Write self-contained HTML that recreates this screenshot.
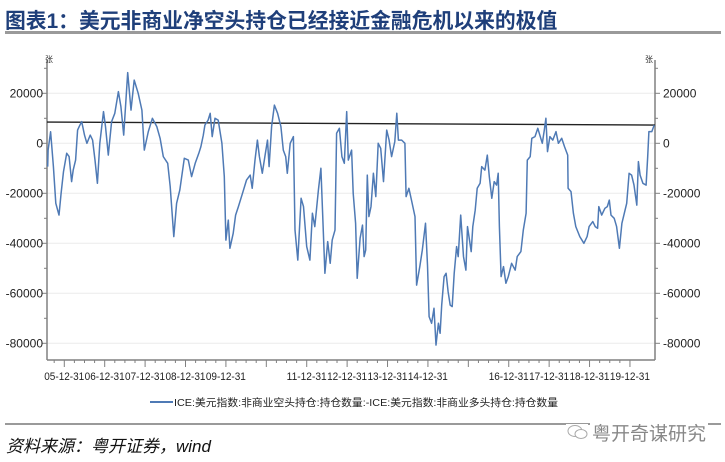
<!DOCTYPE html>
<html><head><meta charset="utf-8">
<style>
html,body{margin:0;padding:0;background:#fff;}
body{width:725px;height:462px;overflow:hidden;position:relative;font-family:"Liberation Sans","Noto Sans CJK SC",sans-serif;}
.title{position:absolute;left:5px;top:4px;font-size:20.8px;font-weight:bold;color:#1f3f7a;white-space:nowrap;letter-spacing:0;font-family:"Liberation Sans","Noto Sans CJK SC",sans-serif;}
.rule1{position:absolute;left:5px;right:4px;top:31px;height:3px;background:#9a9a9a;}
.rule2{position:absolute;left:5px;right:4px;top:423px;height:2px;background:#9a9a9a;}
.source{position:absolute;left:6px;top:432px;font-size:17px;font-style:italic;color:#111;white-space:nowrap;}
.wm{position:absolute;left:590px;top:419px;font-size:19px;color:#888;white-space:nowrap;background:#fff;padding:0 2px;}
.wmicon{position:absolute;left:566px;top:424px;width:22px;height:16px;background:#fff;}
</style></head><body>
<div class="title">图表1：美元非商业净空头持仓已经接近金融危机以来的极值</div>
<div class="rule1"></div>
<svg id="chart" width="725" height="462" style="position:absolute;left:0;top:0"></svg>
<div class="rule2"></div>
<div class="source">资料来源：粤开证券，wind</div>
<div class="wmicon"><svg width="22" height="16"><ellipse cx="9" cy="7" rx="7" ry="5.5" fill="none" stroke="#aaa"/><ellipse cx="15" cy="10" rx="6" ry="4.5" fill="#fff" stroke="#aaa"/></svg></div>
<div class="wm">粤开奇谋研究</div>
<script>
const dates=[2005.59,2005.60,2005.66,2005.69,2005.73,2005.79,2005.87,2005.92,2005.98,2006.06,2006.12,2006.18,2006.22,2006.28,2006.33,2006.37,2006.43,2006.50,2006.56,2006.64,2006.70,2006.76,2006.82,2006.88,2006.97,2007.02,2007.09,2007.17,2007.25,2007.34,2007.40,2007.47,2007.57,2007.65,2007.73,2007.83,2007.92,2007.98,2008.08,2008.18,2008.29,2008.37,2008.45,2008.56,2008.62,2008.71,2008.78,2008.86,2008.97,2009.07,2009.15,2009.24,2009.33,2009.38,2009.44,2009.48,2009.56,2009.61,2009.66,2009.73,2009.81,2009.90,2009.96,2010.00,2010.06,2010.10,2010.18,2010.24,2010.31,2010.41,2010.51,2010.60,2010.65,2010.72,2010.78,2010.83,2010.90,2010.97,2011.03,2011.07,2011.13,2011.20,2011.28,2011.36,2011.42,2011.48,2011.52,2011.59,2011.67,2011.71,2011.78,2011.86,2011.92,2012.00,2012.08,2012.14,2012.20,2012.29,2012.35,2012.39,2012.45,2012.52,2012.58,2012.63,2012.70,2012.74,2012.81,2012.87,2012.93,2012.99,2013.03,2013.11,2013.15,2013.21,2013.25,2013.32,2013.38,2013.42,2013.46,2013.50,2013.54,2013.59,2013.65,2013.71,2013.77,2013.83,2013.90,2013.98,2014.04,2014.10,2014.18,2014.23,2014.27,2014.35,2014.43,2014.46,2014.53,2014.60,2014.68,2014.72,2014.80,2014.86,2014.94,2014.99,2015.03,2015.09,2015.15,2015.20,2015.26,2015.30,2015.34,2015.40,2015.45,2015.50,2015.55,2015.60,2015.65,2015.71,2015.75,2015.81,2015.88,2015.94,2015.98,2016.07,2016.11,2016.17,2016.22,2016.29,2016.33,2016.41,2016.47,2016.52,2016.58,2016.64,2016.70,2016.74,2016.77,2016.81,2016.87,2016.93,2016.99,2017.07,2017.16,2017.21,2017.30,2017.36,2017.43,2017.46,2017.53,2017.57,2017.65,2017.72,2017.77,2017.83,2017.88,2017.92,2017.96,2018.02,2018.09,2018.17,2018.23,2018.31,2018.38,2018.46,2018.47,2018.54,2018.60,2018.66,2018.76,2018.86,2018.94,2018.99,2019.08,2019.14,2019.20,2019.23,2019.30,2019.38,2019.44,2019.49,2019.53,2019.61,2019.67,2019.74,2019.80,2019.86,2019.92,2019.98,2020.04,2020.10,2020.17,2020.21,2020.25,2020.32,2020.40,2020.44,2020.47,2020.54,2020.60];
const netShort=[-9300,-2700,4600,-1300,-9300,-24000,-28700,-20000,-11300,-4000,-5300,-15300,-10700,-6700,5300,6700,8700,3300,0,3300,1300,-6700,-16000,0,12700,6700,-4700,8700,12000,20700,14700,3300,28300,13300,25300,20000,13300,-2700,4700,10000,6700,2000,-5300,-8000,-17300,-37300,-24000,-18700,-6000,-6700,-13300,-8000,-4000,-1300,3300,7300,9300,12000,2700,10000,9300,0,-13300,-38700,-30700,-42000,-36000,-28700,-25300,-20000,-14700,-12700,-18000,-6700,1300,-5300,-12000,-4700,1300,-9300,6700,15300,12000,6700,-2700,-5300,-12000,0,2700,-34700,-46700,-22000,-25300,-41300,-46700,-28000,-33300,-18700,-10000,-26700,-52000,-39300,-48000,-38700,-34700,4000,6000,-5300,-8000,12700,-6700,-2700,-20000,-32000,-54000,-38000,-32700,-45300,-42700,-12700,-29300,-25300,-12000,-21300,0,-2000,-15300,5300,1300,-5300,700,12000,1300,1300,0,-21300,-18000,-23300,-29300,-56700,-49300,-42700,-32000,-48700,-69300,-72000,-66000,-80700,-72000,-76000,-64700,-53300,-52000,-59300,-64700,-65300,-52000,-41300,-45300,-28700,-45300,-50700,-33300,-43300,-33300,-26700,-18000,-16000,-9300,-10700,-4700,-13300,-22000,-15300,-16700,-12000,-33300,-53300,-49300,-56000,-53300,-48000,-50700,-45300,-43300,-34700,-28000,-6700,-5300,2000,2700,6000,3300,0,5300,10000,-3300,2700,1300,4700,0,2000,-1300,-4700,-18000,-19300,-28000,-33300,-37300,-40000,-37300,-33300,-31300,-33300,-34000,-25300,-28700,-26000,-25300,-22700,-28700,-30000,-33300,-42000,-32000,-28000,-24000,-12000,-12700,-16700,-24700,-7300,-12700,-16000,-16700,-5300,4700,4700,7300];
const refLine=[8500,7300];
const yTicks=[20000,0,-20000,-40000,-60000,-80000];
const xLabels=["05-12-31","06-12-31","07-12-31","08-12-31","09-12-31","11-12-31","12-12-31","13-12-31","14-12-31","16-12-31","17-12-31","18-12-31","19-12-31"];
const xLabelYears=[2005.9,2006.9,2007.9,2008.9,2009.9,2011.9,2012.9,2013.9,2014.9,2016.9,2017.9,2018.9,2019.9];
const tickYears=[2006,2007,2008,2009,2010,2011,2012,2013,2014,2015,2016,2017,2018,2019,2020];

const NS='http://www.w3.org/2000/svg';
const svg=document.getElementById('chart');
const L=47,R=655,T=60,B=360;
const X0=2005.572,X1=2020.62;
const xs=v=>L+(v-X0)/(X1-X0)*(R-L);
const ys=v=>143.3-v/20000*50;
function mk(tag,attrs){const e=document.createElementNS(NS,tag);for(const k in attrs)e.setAttribute(k,attrs[k]);svg.appendChild(e);return e;}
yTicks.forEach(v=>{const g=mk('line',{x1:L,x2:R,y1:ys(v),y2:ys(v),stroke:'#ececec','stroke-width':1});

});
const al=mk('line',{x1:L,x2:L,y1:T,y2:B,stroke:'#808080','stroke-width':1.5});


const ar=mk('line',{x1:R,x2:R,y1:T,y2:B,stroke:'#808080','stroke-width':1.5});


const ab=mk('line',{x1:L,x2:R,y1:B,y2:B,stroke:'#808080','stroke-width':1.5});


for(let v=30000;v>=-80000;v-=10000){
 const y=ys(v); if(y<T-1) continue;
 const major=v%20000===0;
 const w=major?5:3;
 const t1=mk('line',{x1:L-w,x2:L,y1:y,y2:y,stroke:'#808080'});
 
 
 const t2=mk('line',{x1:R,x2:R+w,y1:y,y2:y,stroke:'#808080'});
 
 
}
yTicks.forEach(v=>{
 const a=mk('text',{x:L-4,y:ys(v)+4,'text-anchor':'end','font-size':12,fill:'#222','font-family':'Liberation Sans, sans-serif'});a.textContent=v;
 
 
 const b=mk('text',{x:R+8,y:ys(v)+4,'text-anchor':'start','font-size':12,fill:'#222','font-family':'Liberation Sans, sans-serif'});b.textContent=v;
 
 
});
const u1=mk('text',{x:45,y:62,'font-size':8,fill:'#333'});u1.textContent='张';


const u2=mk('text',{x:645,y:62,'font-size':8,fill:'#333'});u2.textContent='张';


tickYears.forEach(yr=>{const t=mk('line',{x1:xs(yr),x2:xs(yr),y1:B,y2:B+7,stroke:'#808080'});


for(let q=1;q<4;q++){const yy=yr-q*0.25; if(xs(yy)<L) continue; const m=mk('line',{x1:xs(yy),x2:xs(yy),y1:B,y2:B+3,stroke:'#808080'});

}
});
xLabels.forEach((s,i)=>{const t=mk('text',{x:xs(xLabelYears[i])+4,y:380,'text-anchor':'middle','font-size':11,fill:'#222','font-family':'Liberation Sans, sans-serif',textLength:40,lengthAdjust:'spacingAndGlyphs'});t.textContent=s;

});
const rl=mk('line',{x1:L,x2:R,y1:ys(refLine[0]),y2:ys(refLine[1]),stroke:'#222','stroke-width':1.3});


let d='';dates.forEach((t,i)=>{d+=(i?'L':'M')+xs(t).toFixed(1)+' '+ys(netShort[i]).toFixed(1);});
const p=mk('path',{d:d,fill:'none',stroke:'#4f7ab5','stroke-width':1.5,'stroke-linejoin':'round'});


const ll=mk('line',{x1:150,x2:173,y1:402,y2:402,stroke:'#4f7ab5','stroke-width':2});


const lt=mk('text',{x:174,y:406,'font-size':10.5,fill:'#222','font-family':'Liberation Sans, Noto Sans CJK SC, sans-serif',textLength:384,lengthAdjust:'spacingAndGlyphs'});
lt.textContent='ICE:美元指数:非商业空头持仓:持仓数量:-ICE:美元指数:非商业多头持仓:持仓数量';


</script>
</body></html>
